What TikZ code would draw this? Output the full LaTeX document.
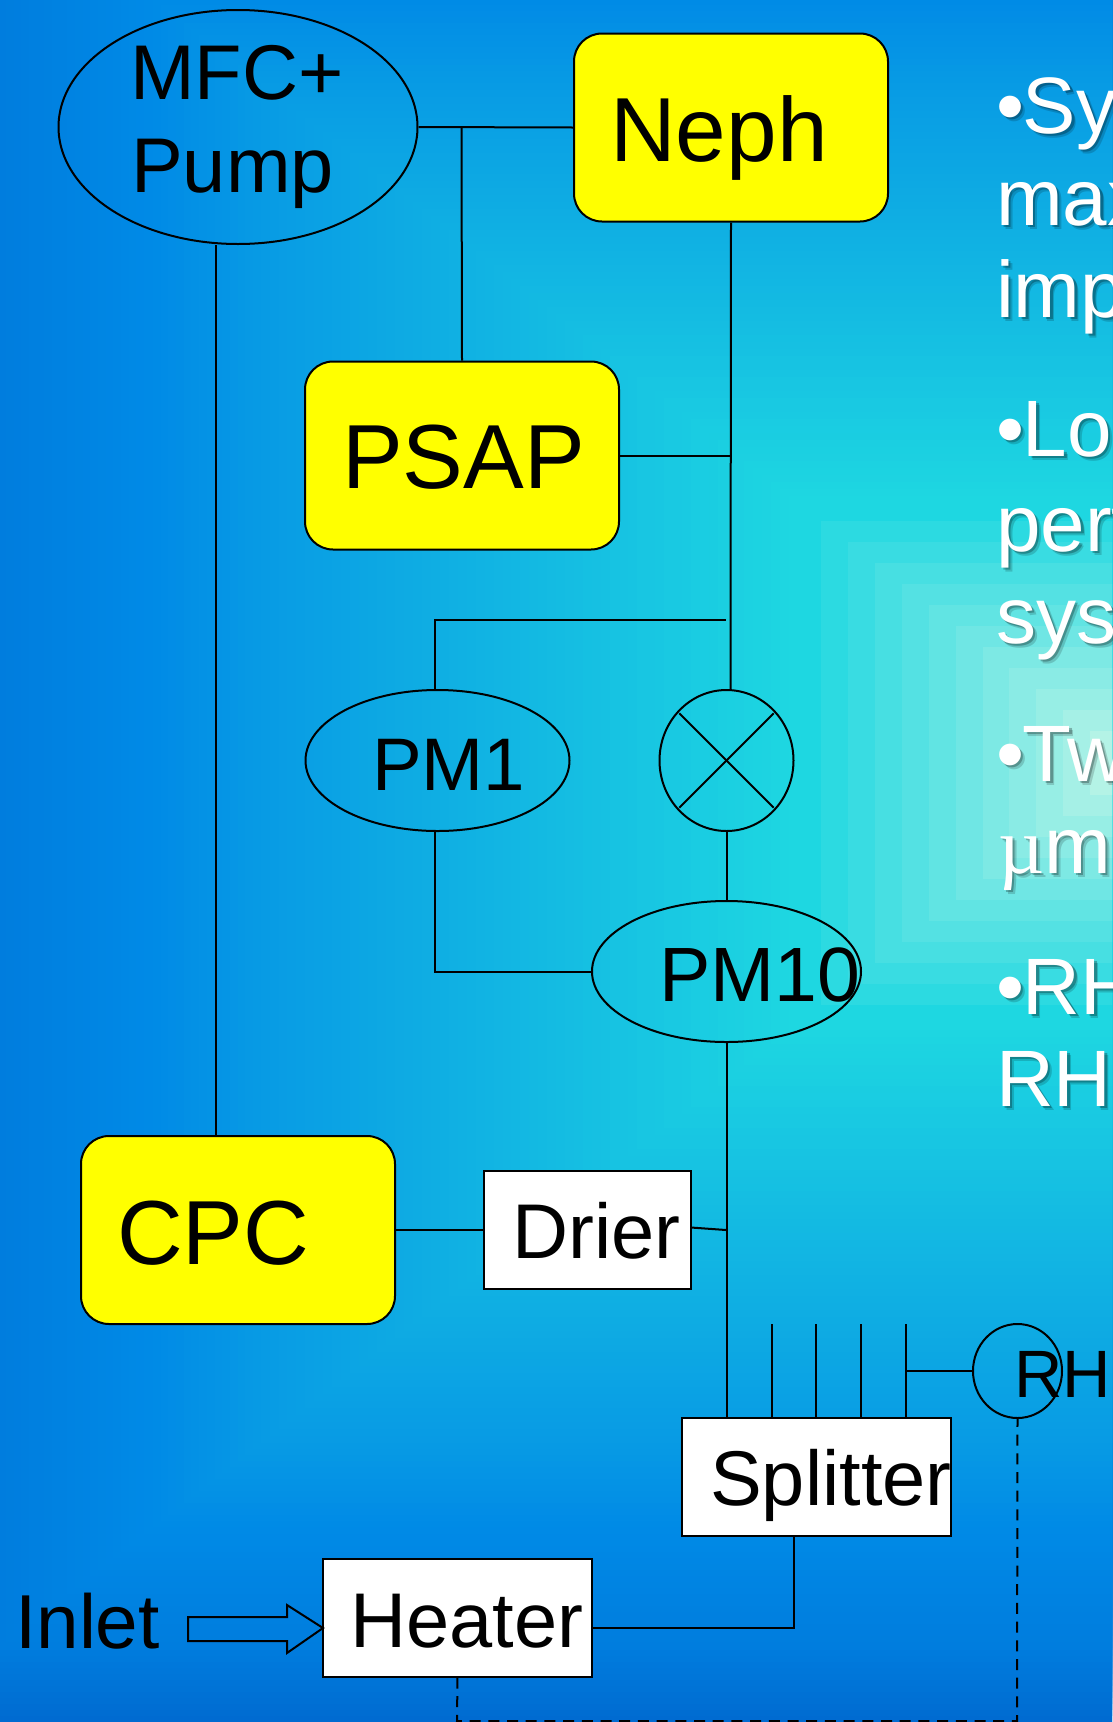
\documentclass[tikz,border=0pt]{standalone}
\usepackage{fontspec}
\setmainfont{Liberation Sans}
\newfontfamily\muface{Liberation Serif}
\usetikzlibrary{shapes.geometric}
\definecolor{linec}{RGB}{0,0,0}
\definecolor{boxy}{RGB}{255,255,0}
\definecolor{c0}{RGB}{0,106,208}
\definecolor{c1}{RGB}{0,125,222}
\definecolor{c2}{RGB}{0,138,230}
\definecolor{c25}{RGB}{8,155,228}
\definecolor{c3}{RGB}{30,215,225}
\definecolor{c4}{RGB}{180,243,230}
\newcommand{\shtext}[1]{\rlap{\pgfsetfillopacity{0.16}\kern4pt\raisebox{-4pt}{\color{black}#1}\pgfsetfillopacity{1}}\rlap{\pgfsetfillopacity{0.26}\kern2.5pt\raisebox{-2.5pt}{\color{black}#1}\pgfsetfillopacity{1}}#1}
\newcommand{\bul}{•\kern-1.5pt}
\tikzset{
  x=1pt,y=-1pt,
  wire/.style={draw=linec,line width=2pt},
  dash wire/.style={wire,dash pattern=on 11pt off 7.7pt},
  yellowbox/.style={draw=linec,line width=2pt,fill=boxy,rounded corners=28pt,minimum width=314pt,minimum height=188pt,inner sep=0pt},
  whitebox/.style={draw=linec,line width=2pt,fill=white,inner sep=0pt},
  oval/.style={ellipse,draw=linec,line width=2pt,inner sep=0pt},
  lab/.style={anchor=base west,inner sep=0pt,text=black,font=\fontsize{77.6}{78}\selectfont},
  biglab/.style={lab,font=\fontsize{91}{91}\selectfont},
  side/.style={anchor=base west,inner sep=0pt,text=white,font=\fontsize{80}{80}\selectfont},
}
\begin{document}
\begin{tikzpicture}
\useasboundingbox (0,0) rectangle (1112,1722);
\begin{scope}
\clip (0,0) rectangle (1112,1722);
% background: nested rectangular gradient
\def\cx{1131}\def\cy{763}\def\rat{1.28}
\foreach \da/\db/\ca/\cb/\st in {965/885/c0/c1/6,885/770/c1/c2/6,770/680/c2/c25/6,680/263/c25/c3/7}{
  \pgfmathtruncatemacro{\nn}{(\da-\db)/\st}
  \foreach \i in {0,...,\nn}{
    \pgfmathsetmacro{\dd}{\da-\i*\st}
    \pgfmathtruncatemacro{\pc}{100*\i/\nn}
    \fill[color=\cb!\pc!\ca] ({\cx-\rat*\dd},{\cy-\dd}) rectangle ({\cx+\rat*\dd},{\cy+\dd});
  }
}
\foreach \i in {0,...,10}{
  \pgfmathsetmacro{\dd}{242-\i*21}
  \pgfmathtruncatemacro{\pc}{9+\i*91/10}
  \fill[color=c4!\pc!c3] ({\cx-\rat*\dd},{\cy-\dd}) rectangle ({\cx+\rat*\dd},{\cy+\dd});
}
% right-hand text
\node[side] (s1) at (996,133) {\shtext{\bul Sy}};
\node[side] (s2) at (996,225) {\shtext{max}};
\node[side] (s3) at (996,317) {\shtext{imp}};
\node[side] (s4) at (996,456) {\shtext{\bul Los}};
\node[side] (s5) at (996,551) {\shtext{perf}};
\node[side] (s6) at (996,643) {\shtext{syst}};
\node[side] (s7) at (996,781) {\shtext{\bul Tw}};
\node[side] (s8) at (998,873) {\shtext{{\muface µ}m}};
\node[side] (s9) at (996,1014) {\shtext{\bul RH}};
\node[side] (s10) at (996,1106) {\shtext{RH}};

% nodes
\node[oval,minimum width=359pt,minimum height=234pt] (mfc) at (238,127) {};
\node[yellowbox] (neph) at (731,127.5) {};
\node[yellowbox] (psap) at (462,455.5) {};
\node[yellowbox] (cpc) at (238,1230) {};
\node[oval,minimum width=264pt,minimum height=141pt] (pm1) at (437.5,760.5) {};
\node[oval,minimum width=134pt,minimum height=141pt] (xc) at (726.5,760.5) {};
\node[oval,minimum width=269pt,minimum height=141pt] (pm10) at (726.5,971.5) {};
\node[whitebox,minimum width=207pt,minimum height=118pt] (drier) at (587.5,1230) {};
\node[whitebox,minimum width=269pt,minimum height=118pt] (split) at (816,1476.5) {};
\node[whitebox,minimum width=269pt,minimum height=118pt] (heater) at (457.5,1617.5) {};
\node[oval,minimum width=89pt,minimum height=94pt] (rh) at (1017.5,1371) {};

% labels
\node[lab] (tmfc) at (130,99) {MFC+};
\node[lab] (tpump) at (131,192) {Pump};
\node[biglab] (tneph) at (610,161) {Neph};
\node[biglab] (tpsap) at (342,488) {PSAP};
\node[biglab] (tcpc) at (117,1264) {CPC};
\node[lab,font=\fontsize{74.5}{75}\selectfont] (tpm1) at (372,790) {PM1};
\node[lab,font=\fontsize{77}{77}\selectfont] (tpm10) at (659,1001) {PM10};
\node[lab] (tdrier) at (512,1258) {Drier};
\node[lab] (tsplit) at (710,1505) {Splitter};
\node[lab] (theater) at (350,1647) {Heater};
\node[lab,font=\fontsize{76.5}{77}\selectfont] (tinlet) at (15,1648) {Inlet};
\node[lab,font=\fontsize{67}{67}\selectfont] (trh) at (1014,1397) {RH};

% junction coordinates
\coordinate (spine) at (215.5,0);
\coordinate (tee) at (461.5,127.5);
\coordinate (nephdown) at (730.5,0);
\coordinate (psapj) at (730.5,455.5);
\coordinate (pmj) at (726,620);
\coordinate (pm1x) at (435,0);
\coordinate (drierout) at (691,1227.5);
\coordinate (drierj) at (726,1230);
\coordinate (splitj) at (793.5,0);
\coordinate (heaterj) at (793.5,1628);
\coordinate (t1) at (771.5,1324);
\coordinate (t2) at (816,1324);
\coordinate (t3) at (861,1324);
\coordinate (t4) at (905.5,1324);
\coordinate (rhj) at (905.5,1371);
\coordinate (dashl) at (457,1721);
\coordinate (dashr) at (1017,1721);
\coordinate (tipa) at (323,1628);

% connectors
\draw[wire] (mfc.east) -- (neph.west);
\draw[wire] (tee) -- (psap.north);
\draw[wire] (mfc.south -| spine) -- (cpc.north -| spine);
\draw[wire] (neph.south) -- (xc.north -| nephdown);
\draw[wire] (psap.east) -- (psapj);
\draw[wire] (pm1.north -| pm1x) -- (pm1x |- pmj) -- (pmj);
\draw[wire,shorten >=3pt,shorten <=3pt] (xc.45) -- (xc.225);
\draw[wire,shorten >=3pt,shorten <=3pt] (xc.135) -- (xc.-45);
\draw[wire] (xc.south) -- (pm10.north);
\draw[wire] (pm1.south -| pm1x) -- (pm1x |- pm10.west) -- (pm10.west);
\draw[wire] (pm10.south) -- (pm10.south |- split.north);
\draw[wire] (cpc.east) -- (drier.west);
\draw[wire] (drierout) -- (drierj);
\draw[wire] (split.north -| t1) -- (t1);
\draw[wire] (split.north -| t2) -- (t2);
\draw[wire] (split.north -| t3) -- (t3);
\draw[wire] (split.north -| t4) -- (t4);
\draw[wire] (rhj) -- (rh.west);
\draw[wire] (split.south -| splitj) -- (heaterj) -- (heater.east |- heaterj);
\draw[dash wire] (heater.south) -- (dashl) -- (dashr) -- (rh.south);
\draw[wire] (188,1617) -- (287,1617) -- (287,1605) -- (tipa) -- (287,1653) -- (287,1641) -- (188,1641) -- cycle;
\end{scope}
\end{tikzpicture}
\end{document}
